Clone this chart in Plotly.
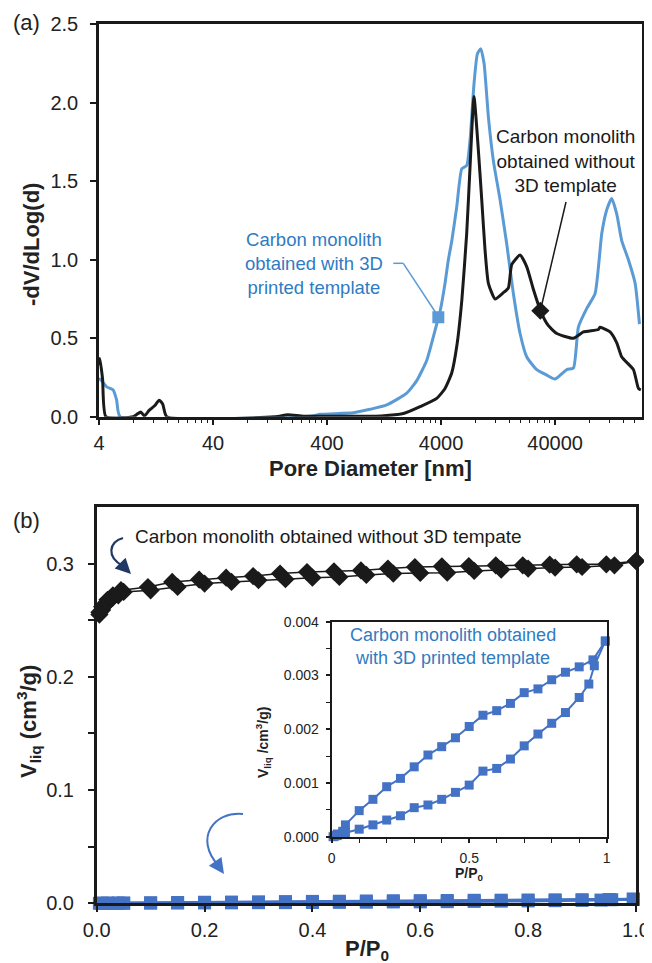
import plotly.graph_objects as go
import numpy as np

# The page body has an 8 px margin; the figure is shrunk and all layout
# positions are given in reference-picture pixels, shifted by that margin.
OFF = 8
W, H = 652 - OFF, 963 - OFF

# ---------------- (a) pore size distribution ----------------
black_d = [4, 4.07, 4.3, 4.6, 8, 8.6, 9.3, 10, 11, 12.3, 13.5, 14.5, 15.7, 140, 181, 250, 600, 1200,
           1867, 2618, 3665, 4335, 4967, 5495, 6080, 6716, 7180, 7780, 8492, 9099, 9727, 10400,
           11910, 14077, 15577, 16676, 19729, 22592, 25826, 29994, 34952, 41404, 57949, 70848,
           95952, 99324, 121428, 139017, 153836, 194560, 215308, 225976]
black_v = [0.33, 0.37, 0.24, 0.0, 0.0, 0.015, 0.03, 0.005, 0.04, 0.07, 0.105, 0.08, 0.0, 0.0, 0.012, 0.003, 0.003, 0.005,
           0.02, 0.064, 0.117, 0.18, 0.28, 0.45, 0.74, 1.17, 1.59, 2.04, 1.70, 1.38, 1.06, 0.85,
           0.75, 0.79, 0.82, 0.97, 1.03, 0.955, 0.81, 0.67, 0.58, 0.53, 0.50, 0.54,
           0.556, 0.57, 0.54, 0.47, 0.38, 0.30, 0.18, 0.17]

blue_d = [4, 4.08, 4.67, 5.33, 5.71, 6.12, 200, 300, 347, 680, 953, 1336, 2000, 2449, 2999, 3541, 3919,
          4335, 4635, 4967, 5495, 6080, 6716, 7180, 7780, 8320, 8918, 9536, 10400, 11508, 13184,
          15068, 17224, 19729, 22592, 27628, 33812, 40000, 50708, 57949, 64012, 75868, 89760,
          102816, 113780, 125620, 139017, 153836, 175816, 201400, 219816]
blue_v = [0.23, 0.24, 0.19, 0.17, 0.106, 0.0, 0.0, 0.005, 0.015, 0.025, 0.047, 0.075, 0.15, 0.23, 0.36, 0.55, 0.67,
          0.85, 1.0, 1.12, 1.34, 1.58, 1.60, 1.76, 2.12, 2.31, 2.345, 2.25, 1.91, 1.63, 1.38,
          1.10, 0.785, 0.53, 0.38, 0.30, 0.265, 0.24, 0.30, 0.31, 0.57, 0.69, 0.785,
          1.17, 1.32, 1.39, 1.29, 1.12, 1.00, 0.85, 0.59]

# label markers on the curves
blue_mark = ([3785], [0.633])
black_mark = ([29700], [0.675])

x_ticks_a = [4, 40, 400, 4000, 40000]
y_ticks_a = [0.0, 0.5, 1.0, 1.5, 2.0, 2.5]

# ---------------- (b) isotherms ----------------
nt_ads_p = [0.005, 0.01, 0.015, 0.02, 0.025, 0.03, 0.04, 0.05, 0.10, 0.15, 0.20, 0.25, 0.30, 0.35, 0.40,
            0.45, 0.50, 0.55, 0.60, 0.65, 0.70, 0.75, 0.80, 0.85, 0.90, 0.96, 1.0]
nt_ads_v = [0.255, 0.259, 0.263, 0.266, 0.268, 0.270, 0.272, 0.275, 0.2764, 0.2794, 0.2824, 0.2838, 0.2853,
            0.2862, 0.2876, 0.2882, 0.2900, 0.2912, 0.2917, 0.2920, 0.2935, 0.2947, 0.2956, 0.2965,
            0.2970, 0.2985, 0.3023]
nt_des_p = [1.0, 0.945, 0.89, 0.84, 0.79, 0.74, 0.69, 0.64, 0.59, 0.54, 0.49, 0.44, 0.39, 0.34, 0.29,
            0.24, 0.19, 0.14, 0.095, 0.045, 0.03, 0.02, 0.01, 0.005]
nt_des_v = [0.3023, 0.2994, 0.2994, 0.2991, 0.2985, 0.2985, 0.2979, 0.2976, 0.2970, 0.2956, 0.2940, 0.2932,
            0.2926, 0.2912, 0.2890, 0.2876, 0.2859, 0.2838, 0.2793, 0.2765, 0.272, 0.268, 0.262, 0.257]

t_ads_p = [0.005, 0.01, 0.02, 0.03, 0.04, 0.05, 0.10, 0.15, 0.20, 0.25, 0.30, 0.35, 0.40, 0.45, 0.50,
           0.55, 0.60, 0.65, 0.70, 0.75, 0.80, 0.85, 0.90, 0.935, 0.955, 0.995]
t_ads_v = [0.0, 0.00001, 0.00002, 0.00004, 0.00005, 0.000075, 0.00014, 0.00022, 0.00031, 0.00039, 0.00054,
           0.00059, 0.000695, 0.000825, 0.00096, 0.00122, 0.00127, 0.001445, 0.00169, 0.00191, 0.00211,
           0.00231, 0.00259, 0.00284, 0.00318, 0.00364]
t_des_p = [0.995, 0.95, 0.90, 0.85, 0.80, 0.75, 0.70, 0.65, 0.60, 0.55, 0.50, 0.45, 0.40, 0.35, 0.30,
           0.25, 0.20, 0.15, 0.10, 0.05, 0.04, 0.02, 0.01]
t_des_v = [0.00364, 0.00329, 0.00316, 0.00306, 0.00292, 0.00275, 0.00268, 0.00248, 0.002345, 0.00226,
           0.00205, 0.00184, 0.001675, 0.00152, 0.0013, 0.001085, 0.00093, 0.000695, 0.000485, 0.00022,
           0.0001, 0.00005, 0.00002]

x_ticks_b = [0.0, 0.2, 0.4, 0.6, 0.8, 1.0]
y_ticks_b = [0.0, 0.1, 0.2, 0.3]
x_ticks_in = [0, 0.5, 1]
y_ticks_in = [0.000, 0.001, 0.002, 0.003, 0.004]

# ---------------- layout helpers (reference pixel -> paper) ----------------
def px(x):
    return (x - OFF) / W

def py(y):
    return 1 - (y - OFF) / H

FONT = "Liberation Sans, Arial, sans-serif"
BLUE_A = "#5B9BD5"
BLUE_B = "#4472C4"
BLUE_TXT = "#2F7BC3"
BLACK = "#1A1A1A"

fig = go.Figure()

# (a)
fig.add_trace(go.Scatter(x=blue_d, y=blue_v, mode="lines", line=dict(color=BLUE_A, width=3, shape="spline", smoothing=0.5),
                         xaxis="x", yaxis="y", showlegend=False, hoverinfo="skip"))
fig.add_trace(go.Scatter(x=black_d, y=black_v, mode="lines", line=dict(color=BLACK, width=3, shape="spline", smoothing=0.5),
                         xaxis="x", yaxis="y", showlegend=False, hoverinfo="skip"))
fig.add_trace(go.Scatter(x=blue_mark[0], y=blue_mark[1], mode="markers",
                         marker=dict(symbol="square", size=12, color=BLUE_A),
                         xaxis="x", yaxis="y", showlegend=False))
fig.add_trace(go.Scatter(x=black_mark[0], y=black_mark[1], mode="markers",
                         marker=dict(symbol="diamond", size=14, color=BLACK),
                         xaxis="x", yaxis="y", showlegend=False))

# (b) main
for xs, ys in [(nt_ads_p, nt_ads_v), (nt_des_p, nt_des_v)]:
    fig.add_trace(go.Scatter(x=xs, y=ys, mode="lines+markers",
                             line=dict(color=BLACK, width=1.5),
                             marker=dict(symbol="diamond", size=14, color=BLACK),
                             xaxis="x2", yaxis="y2", showlegend=False, cliponaxis=False))
for xs, ys in [(t_ads_p, t_ads_v), (t_des_p, t_des_v)]:
    fig.add_trace(go.Scatter(x=xs, y=ys, mode="lines+markers",
                             line=dict(color=BLUE_B, width=3),
                             marker=dict(symbol="square", size=13, color=BLUE_B),
                             xaxis="x2", yaxis="y2", showlegend=False, cliponaxis=False))
# inset
for xs, ys in [(t_ads_p, t_ads_v), (t_des_p, t_des_v)]:
    fig.add_trace(go.Scatter(x=xs, y=ys, mode="lines+markers",
                             line=dict(color=BLUE_B, width=2),
                             marker=dict(symbol="square", size=9, color=BLUE_B),
                             xaxis="x3", yaxis="y3", showlegend=False, cliponaxis=False))

def minor_log():
    vals = []
    for n in range(0, 6):
        for k in range(2, 10):
            v = 4 * k * 10 ** n
            if v < 230000:
                vals.append(v)
    return vals

axis_common = dict(showline=True, linecolor=BLACK, linewidth=2.5, mirror=True, showgrid=False, zeroline=False,
                   ticks="outside", tickcolor=BLACK, tickwidth=1.5, ticklen=6, automargin=False,
                   tickfont=dict(family=FONT, size=20, color="#222"))

fig.update_layout(
    width=W, height=H, margin=dict(l=0, r=0, t=0, b=0),
    paper_bgcolor="white", plot_bgcolor="white",
    font=dict(family=FONT, color="#222"),
    xaxis=dict(axis_common, type="log", domain=[px(99), px(641.7)], anchor="y",
               range=[np.log10(4), np.log10(230000)],
               tickmode="array", tickvals=x_ticks_a, ticktext=[str(v) for v in x_ticks_a],
               ticklabelstandoff=1,
               minor=dict(tickmode="array", tickvals=minor_log(), ticks="outside", ticklen=4,
                          tickcolor=BLACK, tickwidth=1.2)),
    yaxis=dict(axis_common, domain=[py(416.7), py(24.3)], anchor="x", range=[0, 2.5],
               tickmode="array", tickvals=y_ticks_a, ticktext=[f"{v:.1f}" for v in y_ticks_a],
               ticklabelstandoff=8),
    xaxis2=dict(axis_common, domain=[px(96.7), px(636)], anchor="y2", range=[0, 1.0],
                tickmode="array", tickvals=x_ticks_b, ticktext=[f"{v:.1f}" for v in x_ticks_b],
                ticklabelstandoff=1),
    yaxis2=dict(axis_common, domain=[py(903.3), py(507)], anchor="x2", range=[0, 0.35],
                tickmode="array", tickvals=y_ticks_b, ticktext=[f"{v:.1f}" for v in y_ticks_b],
                ticklabelstandoff=10,
                minor=dict(tickmode="array", tickvals=[0.05, 0.15, 0.25], ticks="outside", ticklen=6,
                           tickcolor=BLACK, tickwidth=1.5)),
    xaxis3=dict(axis_common, domain=[px(331.7), px(606.7)], anchor="y3", range=[0, 1.0], linewidth=2,
                tickmode="array", tickvals=x_ticks_in, ticktext=["0", "0.5", "1"],
                tickfont=dict(family=FONT, size=14, color="#222"), ticklen=4, ticklabelstandoff=3,
                minor=dict(tickmode="array", tickvals=[0.1, 0.2, 0.3, 0.4, 0.6, 0.7, 0.8, 0.9],
                           ticks="outside", ticklen=4, tickcolor=BLACK, tickwidth=1)),
    yaxis3=dict(axis_common, domain=[py(836.7), py(621.7)], anchor="x3", range=[0, 0.004], linewidth=2,
                tickmode="array", tickvals=y_ticks_in, ticktext=[f"{v:.3f}" for v in y_ticks_in],
                tickfont=dict(family=FONT, size=14, color="#222"), ticklen=4, ticklabelstandoff=4,
                minor=dict(tickmode="array", tickvals=[0.0005, 0.0015, 0.0025, 0.0035],
                           ticks="outside", ticklen=4, tickcolor=BLACK, tickwidth=1)),
)

ann = []
def text(x, y, t, size, color="#222", angle=0, xanchor="center", yanchor="middle", align="center"):
    ann.append(dict(x=px(x), y=py(y), xref="paper", yref="paper", text=t, showarrow=False,
                    font=dict(family=FONT, size=size, color=color), textangle=angle,
                    xanchor=xanchor, yanchor=yanchor, align=align))

text(26, 23, "(a)", 22)
text(26, 520, "(b)", 22)
text(31, 245, "<b>-dV/dLog(d)</b>", 22, angle=-90)
text(370, 468, "<b>Pore Diameter [nm]</b>", 22)
text(314, 264, "Carbon monolith<br>obtained with 3D<br>printed template", 18.5, color=BLUE_TXT)
text(566, 161, "Carbon monolith<br>obtained without<br>3D template", 19, color=BLACK)
text(133, 536, "Carbon monolith obtained without 3D tempate", 19, color=BLACK, xanchor="left")
text(28, 722, "<b>V<sub>liq</sub> (cm<sup>3</sup>/g)</b>", 22, angle=-90)
text(367, 950, "<b>P/P<sub>0</sub></b>", 22)
text(453, 646, "Carbon monolith obtained<br>with 3D printed template", 18, color=BLUE_TXT)
text(263, 743, "<b>V<sub>liq</sub> /cm<sup>3</sup>/g)</b>", 14, angle=-90)
text(469, 874, "<b>P/P<sub>0</sub></b>", 14)

# arrowheads of curved arrows
def arrow(tipx, tipy, ax, ay, color):
    ann.append(dict(x=px(tipx), y=py(tipy), xref="paper", yref="paper", text="", showarrow=True,
                    ax=ax, ay=ay, arrowhead=2, arrowsize=1.4, arrowwidth=2.2, arrowcolor=color))

arrow(131, 574, -9, -9, "#1F3864")
arrow(224, 874, -7, -10, BLUE_B)
fig.update_layout(annotations=ann)

def path_px(pts):
    (x0, y0), (x1, y1), (x2, y2), (x3, y3) = pts
    return (f"M {px(x0)},{py(y0)} C {px(x1)},{py(y1)} {px(x2)},{py(y2)} {px(x3)},{py(y3)}")

shapes = [
    dict(type="path", xref="paper", yref="paper",
         path=path_px([(123, 538), (109, 542), (106, 557), (123, 566)]),
         line=dict(color="#1F3864", width=2.2)),
    dict(type="path", xref="paper", yref="paper",
         path=path_px([(243, 814), (214, 811), (194, 838), (218, 865)]),
         line=dict(color=BLUE_B, width=2)),
    dict(type="line", xref="paper", yref="paper", x0=px(393.3), y0=py(263.3), x1=px(403.3), y1=py(263.3),
         line=dict(color=BLUE_A, width=1.5)),
    dict(type="line", xref="paper", yref="paper", x0=px(403.3), y0=py(263.3), x1=px(436), y1=py(313),
         line=dict(color=BLUE_A, width=1.5)),
    dict(type="line", xref="paper", yref="paper", x0=px(566), y0=py(202), x1=px(541), y1=py(308),
         line=dict(color=BLACK, width=1.5)),
]
fig.update_layout(shapes=shapes)

# hide page scrollbars caused by the default 8 px body margin
fig.write_html("out.html",
               post_script="document.documentElement.style.overflow='hidden';document.body.style.overflow='hidden';")
